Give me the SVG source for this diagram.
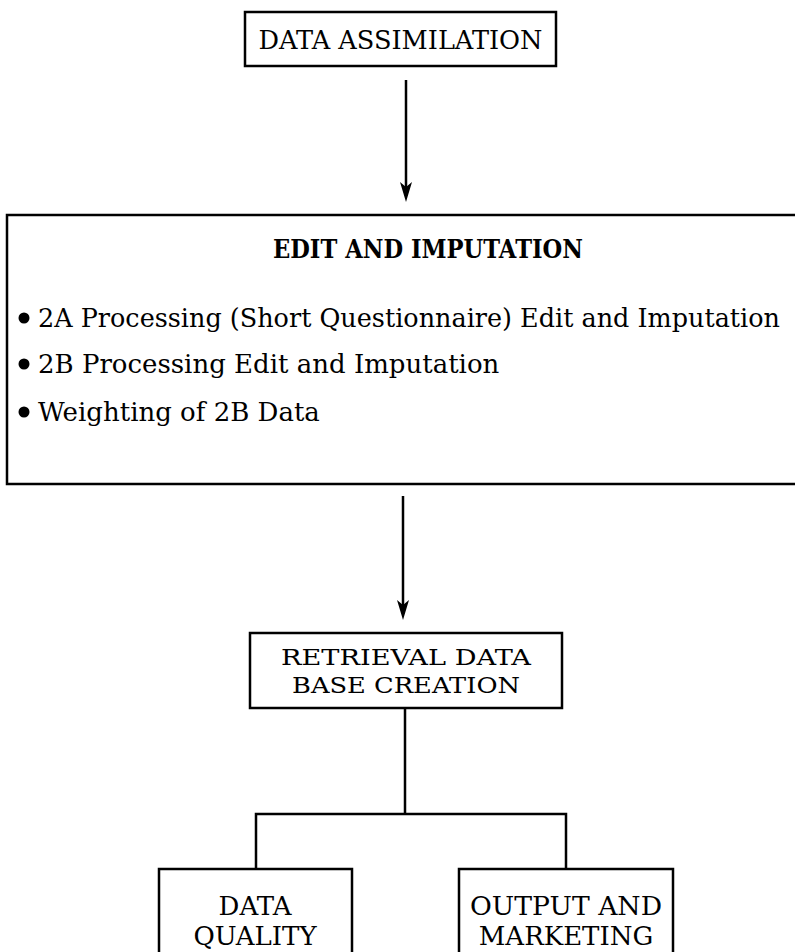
<svg xmlns="http://www.w3.org/2000/svg" width="795" height="952" viewBox="0 0 795 952">
  <style>
    .box { fill: #fff; stroke: #000; stroke-width: 2.5; }
    .txt { font-family: "DejaVu Serif", "Liberation Serif", serif; font-size: 26px; fill: #000; text-anchor: middle; }
    .sm { font-size: 23px; }
    .item { font-family: "DejaVu Serif", "Liberation Serif", serif; font-size: 26px; fill: #000; }
    .head { font-family: "DejaVu Serif", "Liberation Serif", serif; font-size: 26px; font-weight: bold; fill: #000; text-anchor: middle; }
    .wire { fill: none; stroke: #000; stroke-width: 2.5; }
  </style>
  <defs>
    <marker id="arrow" markerUnits="userSpaceOnUse" viewBox="-1 -8 22 16" markerWidth="22" markerHeight="16" refX="14" refY="0" orient="auto">
      <path d="M0,-6 L20,0 L0,6 L5,0 Z" fill="#000"/>
    </marker>
  </defs>

  <rect width="795" height="952" fill="#fff"/>

  <g id="data-assimilation">
    <rect class="box" x="245" y="12" width="311" height="54"/>
    <text class="txt" x="400.5" y="49" textLength="284" lengthAdjust="spacingAndGlyphs">DATA ASSIMILATION</text>
  </g>

  <g id="edit-imputation">
    <path class="box" d="M800,215 H7 V484 H800"/>
    <text class="head" x="428" y="258" textLength="310" lengthAdjust="spacingAndGlyphs">EDIT AND IMPUTATION</text>
    <circle cx="24" cy="318" r="5.5"/>
    <text class="item" x="38" y="327" textLength="742" lengthAdjust="spacingAndGlyphs">2A Processing (Short Questionnaire) Edit and Imputation</text>
    <circle cx="24" cy="364" r="5.5"/>
    <text class="item" x="38" y="373">2B Processing Edit and Imputation</text>
    <circle cx="24" cy="412" r="5.5"/>
    <text class="item" x="38" y="421">Weighting of 2B Data</text>
  </g>

  <g id="retrieval-db">
    <rect class="box" x="250" y="633" width="312" height="75"/>
    <text class="txt sm" x="406" y="665" textLength="250" lengthAdjust="spacingAndGlyphs">RETRIEVAL DATA</text>
    <text class="txt sm" x="406" y="693" textLength="228" lengthAdjust="spacingAndGlyphs">BASE CREATION</text>
  </g>

  <g id="data-quality">
    <rect class="box" x="159" y="869" width="193" height="100"/>
    <text class="txt" x="255" y="915">DATA</text>
    <text class="txt" x="255" y="945">QUALITY</text>
  </g>

  <g id="output-marketing">
    <rect class="box" x="459" y="869" width="214" height="100"/>
    <text class="txt" x="566" y="915" textLength="192" lengthAdjust="spacingAndGlyphs">OUTPUT AND</text>
    <text class="txt" x="566" y="945">MARKETING</text>
  </g>

  <g id="connectors">
    <line class="wire" x1="406" y1="80" x2="406" y2="196" marker-end="url(#arrow)"/>
    <line class="wire" x1="403" y1="496" x2="403" y2="614" marker-end="url(#arrow)"/>
    <path class="wire" d="M405,708 V814 M256,869 V814 H566 V869"/>
  </g>
</svg>
